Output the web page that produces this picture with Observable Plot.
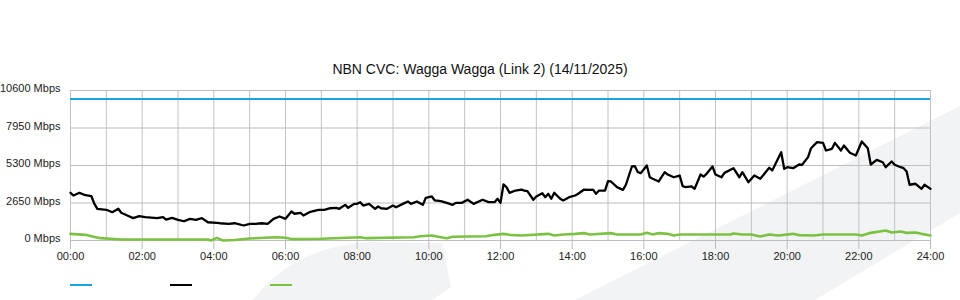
<!DOCTYPE html>
<html>
<head>
<meta charset="utf-8">
<script src="https://cdn.jsdelivr.net/npm/d3@7"></script>
<script src="https://cdn.jsdelivr.net/npm/@observablehq/plot@0.6"></script>
<style>
  body { margin: 0; background: #fff; }
  #wrap { position: relative; width: 960px; height: 300px; overflow: hidden;
          font-family: "Liberation Sans", Arial, sans-serif; }
  #bg { position: absolute; left: 0; top: 0; }
  #title { position: absolute; left: 0; top: 61px; width: 960px; text-align: center;
           font-size: 14px; line-height: 16px; color: #111; }
  #chart { position: absolute; left: 0; top: 0; }
  #legend { position: absolute; left: 0; top: 270px; width: 960px; height: 30px; }
  .sw { position: absolute; top: 14px; width: 22px; height: 2px; }
</style>
</head>
<body>
<div id="wrap">
  <svg id="bg" width="960" height="300">
    <path d="M575,300 L960,106 L960,213 L815,300 Z" fill="#f2f3f5"></path>
    <path d="M253,300 Q292,248 367,242 L442,243 L451,287 L432,300 Z" fill="#f2f3f5"></path>
  </svg>
  <div id="title"></div>
  <div id="chart"></div>
  <div id="legend"></div>
</div>
<script>
const chartTitle = "NBN CVC: Wagga Wagga (Link 2) (14/11/2025)";

// Capacity (blue)
const capacityMbps = 10000;

// Download traffic (black), sampled times and Mbps
const downTimes = [
  "00:00","00:05","00:15","00:25","00:35","00:40","00:45",
  "01:00","01:10","01:20","01:25","01:35","01:45","01:55",
  "02:05","02:25","02:35","02:40","02:50",
  "03:00","03:10","03:20","03:30","03:40","03:50",
  "04:05","04:10","04:25","04:35","04:50",
  "05:00","05:10","05:20","05:30","05:40","05:50",
  "06:00","06:10","06:15","06:25","06:30","06:40","06:55",
  "07:05","07:15","07:25","07:30","07:40","07:45","07:55",
  "08:00","08:05","08:10","08:20","08:30","08:35","08:40","08:50",
  "09:00","09:05","09:20","09:25","09:30","09:40","09:50","09:55",
  "10:05","10:10","10:20","10:30","10:40","10:45","10:55",
  "11:05","11:15","11:30","11:40","11:50","11:55",
  "12:00","12:05","12:10","12:15","12:25","12:35","12:40","12:45","12:55",
  "13:00","13:10","13:15","13:20","13:25","13:30","13:40","13:45","13:55",
  "14:05","14:10","14:20","14:30","14:35","14:40","14:45","14:55",
  "15:00","15:05","15:15","15:25","15:30","15:40","15:45","15:50","15:55",
  "16:05","16:10","16:15","16:25","16:35","16:40","16:50",
  "17:00","17:05","17:10","17:20","17:25","17:35","17:40","17:45","17:55",
  "18:00","18:10","18:15","18:30","18:40","18:45","18:55",
  "19:05","19:15","19:30","19:35","19:50","19:55",
  "20:00","20:10","20:20","20:25","20:35","20:40","20:50",
  "21:00","21:05","21:15","21:20","21:30","21:35","21:45","21:55",
  "22:05","22:15","22:20","22:30","22:40","22:45","22:55",
  "23:00","23:10","23:15","23:20","23:25","23:35","23:45","23:50",
  "24:00"
];
const downMbps = [
  3370,3180,3370,3200,3130,2590,2240,
  2170,2000,2240,1960,1770,1580,1720,
  1650,1580,1650,1480,1600,
  1460,1360,1530,1460,1580,1290,
  1250,1220,1180,1220,1060,
  1180,1180,1220,1180,1530,1700,
  1530,2050,1890,1960,1770,2000,2170,
  2170,2280,2310,2240,2520,2310,2590,
  2590,2710,2470,2590,2240,2400,2280,2240,
  2470,2350,2660,2760,2590,2760,2520,3020,
  3110,2830,2780,2660,2520,2660,2660,
  2880,2590,2880,2710,2710,2950,
  2660,3960,3770,3370,3530,3600,3530,3490,2880,
  3110,3340,3060,3300,2950,3370,2950,2830,3060,
  3180,3300,3600,3580,3600,3300,3530,3530,
  4190,4170,3770,3580,3940,5230,5250,4830,4760,
  5300,4470,4360,4170,4830,4660,4470,
  4590,3840,3770,3820,3650,4660,4520,4710,5230,
  4660,4470,4780,5110,4470,4830,4120,
  4590,4360,5140,4950,6240,5070,
  5180,5110,5370,5350,5890,6520,6950,
  6900,6360,6480,6900,6360,6710,6200,6010,
  7000,6520,5370,5700,5530,5180,5580,
  5350,5180,5110,4880,3940,4010,3650,3940,
  3650
];

// Upload traffic (green)
const upTimes = [
  "00:00","00:25","00:35","00:50","01:25","03:50","03:55","04:05","04:15","04:35",
  "05:00","05:45","06:00","06:10","07:00","08:05","08:15","09:35","09:45","10:05",
  "10:20","10:30","10:40","11:35","11:50","12:05","12:15","12:35","13:20","13:30",
  "13:45","14:05","14:20","14:30","15:05","15:15","15:55","16:05","16:15","16:25",
  "16:40","16:50","17:00","18:25","18:30","18:45","19:00","19:15","19:30","19:45",
  "20:10","20:20","20:45","21:00","21:55","22:05","22:20","22:45","22:55","23:10",
  "23:20","23:35","23:45","24:00"
];
const upMbps = [
  470,400,300,165,70,70,0,190,0,40,
  140,235,190,100,120,235,165,235,300,350,
  235,165,260,300,400,470,400,350,470,350,
  424,470,520,424,520,424,424,540,424,520,
  470,350,424,424,500,424,424,280,424,350,
  470,380,350,424,424,350,540,707,570,636,
  540,570,470,350
];

const yTicks = [0, 2650, 5300, 7950, 10600];
const xTickHours = [0, 2, 4, 6, 8, 10, 12, 14, 16, 18, 20, 22, 24];
const xTickLabels = ["00:00","02:00","04:00","06:00","08:00","10:00","12:00","14:00","16:00","18:00","20:00","22:00","24:00"];
const gridHours = [0,1,2,3,4,5,6,7,8,9,10,11,12,13,14,15,16,17,18,19,20,21,22,23,24];

const seriesColors = ["#1ba0e1", "#000000", "#7cc242"];

const toHours = t => { const [h, m] = t.split(":").map(Number); return h + m / 60; };
const down = downTimes.map((t, i) => ({x: toHours(t), y: downMbps[i]}));
const up = upTimes.map((t, i) => ({x: toHours(t), y: upMbps[i]}));

document.getElementById("title").textContent = chartTitle;

const chart = Plot.plot({
  width: 960,
  height: 270,
  marginTop: 90,
  marginBottom: 30,
  marginLeft: 70,
  marginRight: 30,
  style: {background: "transparent", fontFamily: "'Liberation Sans', Arial, sans-serif", fontSize: "11px", color: "#222"},
  x: {domain: [0, 24]},
  y: {domain: [0, 10600]},
  marks: [
    Plot.ruleX(gridHours, {stroke: "#c2c2c2", strokeWidth: 1}),
    Plot.ruleY(yTicks, {stroke: "#bdbdbd", strokeWidth: 1}),
    Plot.axisY({ticks: yTicks, tickFormat: d => `${d} Mbps`, tickSize: 0, tickPadding: 10, label: null, dy: -2, fill: "#222"}),
    Plot.axisX({ticks: xTickHours, tickFormat: d => xTickLabels[xTickHours.indexOf(d)], tickSize: 9, tickPadding: 3, stroke: "#bbb", fill: "#222", label: null}),
    Plot.ruleY([capacityMbps], {stroke: seriesColors[0], strokeWidth: 2}),
    Plot.line(up, {x: "x", y: "y", stroke: seriesColors[2], strokeWidth: 2.6, strokeLinejoin: "round"}),
    Plot.line(down, {x: "x", y: "y", stroke: seriesColors[1], strokeWidth: 2.3, strokeLinejoin: "round"})
  ]
});
document.getElementById("chart").appendChild(chart);

// Legend: colour swatches only (no labels in the original)
const legendX = [70, 170, 270];
d3.select("#legend").selectAll("div").data(seriesColors).join("div")
  .attr("class", "sw")
  .style("left", (d, i) => legendX[i] + "px")
  .style("background", d => d);
</script>
</body>
</html>
